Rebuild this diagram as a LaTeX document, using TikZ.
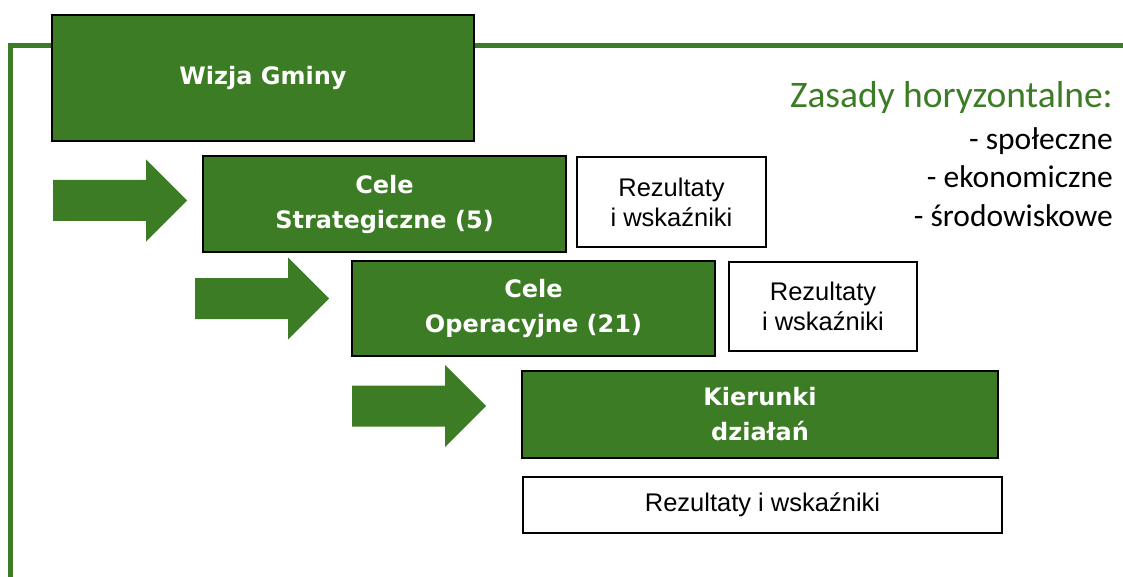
\documentclass[tikz,border=0pt]{standalone}
\usepackage{fontspec}
\newfontfamily\dejavu{DejaVu Sans}
\newfontfamily\libsans{Liberation Sans}
\newfontfamily\carl{Carlito}
\definecolor{gGreen}{RGB}{60,124,36}
\tikzset{
  gbox/.style={draw=black, line width=2pt, fill=gGreen, text=white, align=center, inner sep=0pt,
    font=\dejavu\bfseries\fontsize{24}{35}\selectfont},
  rbox/.style={draw=black, line width=1.5pt, fill=white, text=black, align=center, inner sep=0pt,
    font=\libsans\fontsize{25.5}{30}\selectfont},
  bigarrow/.pic={\fill[gGreen] (0,-20.5) -- (93,-20.5) -- (93,-41) -- (134,0) -- (93,41) -- (93,20.5) -- (0,20.5) -- cycle;},
  zasady/.style={anchor=base east, inner sep=0pt, text=gGreen, font=\carl\fontsize{37.5}{40}\selectfont},
  zitem/.style={anchor=base east, inner sep=0pt, text=black, font=\carl\fontsize{31.5}{36}\selectfont}
}
\begin{document}
\begin{tikzpicture}[x=1pt,y=-1pt]
\useasboundingbox (0,0) rectangle (1123,577);
% frame line
\coordinate (fr1) at (1123,45.5);
\coordinate (fr2) at (10.5,45.5);
\coordinate (fr3) at (10.5,577);
\draw[gGreen, line width=4.5pt] (fr1) -- (fr2) -- (fr3);
% boxes
\node[gbox, minimum width=422pt, minimum height=126pt] (wizja) at (263,78) {Wizja Gminy};
\node[gbox, minimum width=363pt, minimum height=96pt] (cs) at (384.5,204) {Cele\\Strategiczne (5)};
\node[rbox, minimum width=189pt, minimum height=90pt] (r1) at (671.5,202) {Rezultaty\\i wskaźniki};
\node[gbox, minimum width=363pt, minimum height=95pt] (co) at (533.5,308.5) {Cele\\Operacyjne (21)};
\node[rbox, minimum width=188pt, minimum height=89pt] (r2) at (823,306.5) {Rezultaty\\i wskaźniki};
\node[gbox, minimum width=476pt, minimum height=87pt] (kd) at (760,414.5) {Kierunki\\działań};
\node[rbox, minimum width=479pt, minimum height=56pt] (r3) at (762.5,505) {Rezultaty i wskaźniki};
% arrows
\pic at (53,200.5) {bigarrow};
\pic at (195,298.5) {bigarrow};
\pic at (352,406) {bigarrow};
% horizontal principles
\node[zasady] (zas) at (1113,108) {Zasady horyzontalne:};
\node[zitem] (z1) at (1113,150) {- społeczne};
\node[zitem] (z2) at (1113,188) {- ekonomiczne};
\node[zitem] (z3) at (1113,227) {- środowiskowe};
\end{tikzpicture}
\end{document}
